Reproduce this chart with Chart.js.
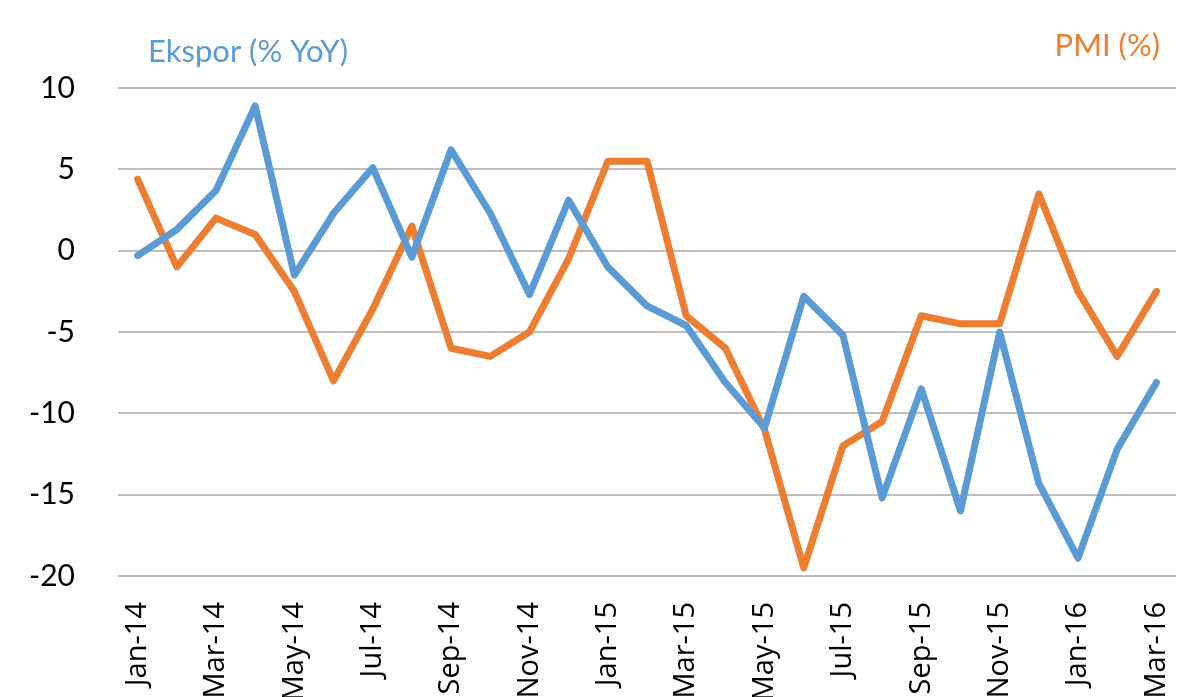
<!DOCTYPE html>
<html>
<head>
<meta charset="utf-8">
<script src="https://cdn.jsdelivr.net/npm/chart.js@4.4.1/dist/chart.umd.min.js"></script>
<style>
  html, body { margin: 0; padding: 0; background: #ffffff; overflow: hidden; }
  #wrap { position: relative; width: 1195px; height: 697px; }
</style>
</head>
<body>
<div id="wrap"><canvas id="c" width="1195" height="697"></canvas></div>
<script>
const categories = ["Jan-14","Feb-14","Mar-14","Apr-14","May-14","Jun-14","Jul-14","Aug-14","Sep-14","Oct-14","Nov-14","Dec-14",
  "Jan-15","Feb-15","Mar-15","Apr-15","May-15","Jun-15","Jul-15","Aug-15","Sep-15","Oct-15","Nov-15","Dec-15",
  "Jan-16","Feb-16","Mar-16"];
const ekspor = [-0.3, 1.3, 3.7, 8.9, -1.5, 2.3, 5.1, -0.4, 6.2, 2.3, -2.7, 3.1,
  -1.0, -3.4, -4.6, -8.1, -10.9, -2.8, -5.2, -15.2, -8.5, -16.0, -5.0, -14.3,
  -18.9, -12.2, -8.1];
const pmi = [4.4, -1.0, 2.0, 1.0, -2.5, -8.0, -3.6, 1.5, -6.0, -6.5, -5.0, -0.5,
  5.5, 5.5, -4.0, -6.0, -11.0, -19.5, -12.0, -10.5, -4.0, -4.5, -4.5, 3.5,
  -2.5, -6.5, -2.5];
const yTicks = [10, 5, 0, -5, -10, -15, -20];
const seriesNames = ["Ekspor (% YoY)", "PMI (%)"];
const seriesColors = ["#5B9BD5", "#ED7D31"];

const titlePlugin = {
  id: 'seriesTitles',
  afterDraw(chart) {
    const ctx = chart.ctx;
    ctx.save();
    ctx.font = '31px Lato, "Open Sans", sans-serif';
    ctx.textBaseline = 'alphabetic';
    ctx.fillStyle = seriesColors[0];
    ctx.textAlign = 'left';
    ctx.fillText(seriesNames[0], 148, 62);
    ctx.fillStyle = seriesColors[1];
    ctx.textAlign = 'right';
    ctx.fillText(seriesNames[1], 1160, 56);
    ctx.restore();
  }
};

new Chart(document.getElementById('c'), {
  type: 'line',
  data: {
    labels: categories,
    datasets: [
      { label: seriesNames[0], data: ekspor, borderColor: seriesColors[0], backgroundColor: seriesColors[0],
        borderWidth: 7, pointRadius: 0, tension: 0, fill: false, borderJoinStyle: 'round', borderCapStyle: 'round' },
      { label: seriesNames[1], data: pmi, borderColor: seriesColors[1], backgroundColor: seriesColors[1],
        borderWidth: 7, pointRadius: 0, tension: 0, fill: false, borderJoinStyle: 'round', borderCapStyle: 'round' }
    ]
  },
  options: {
    responsive: false,
    animation: false,
    layout: { padding: { top: 88, right: 19, left: 0, bottom: 0 } },
    plugins: { legend: { display: false }, tooltip: { enabled: false }, title: { display: false } },
    scales: {
      x: {
        offset: true,
        grid: { display: false, drawTicks: false },
        border: { display: false },
        afterFit(scale) {
          scale.height = 697 - 88 - 488;
          scale.paddingLeft = 0;
          scale.paddingRight = 0;
        },
        ticks: {
          autoSkip: false,
          minRotation: 90, maxRotation: 90,
          padding: 26,
          color: '#000000',
          font: { family: '"Open Sans", sans-serif', size: 29 },
          callback(val, idx) { return idx % 2 === 0 ? categories[idx] : ''; }
        }
      },
      y: {
        min: -20, max: 10,
        afterFit(scale) {
          scale.width = 118;
          scale.paddingTop = 0;
          scale.paddingBottom = 0;
        },
        afterBuildTicks(scale) { scale.ticks = yTicks.map(v => ({ value: v })); },
        grid: { color: '#BFBFBF', lineWidth: 2, drawTicks: false },
        border: { display: false },
        ticks: {
          padding: 43,
          color: '#000000',
          font: { family: 'Lato, "Open Sans", sans-serif', size: 30 }
        }
      }
    }
  },
  plugins: [titlePlugin]
});
</script>
</body>
</html>
